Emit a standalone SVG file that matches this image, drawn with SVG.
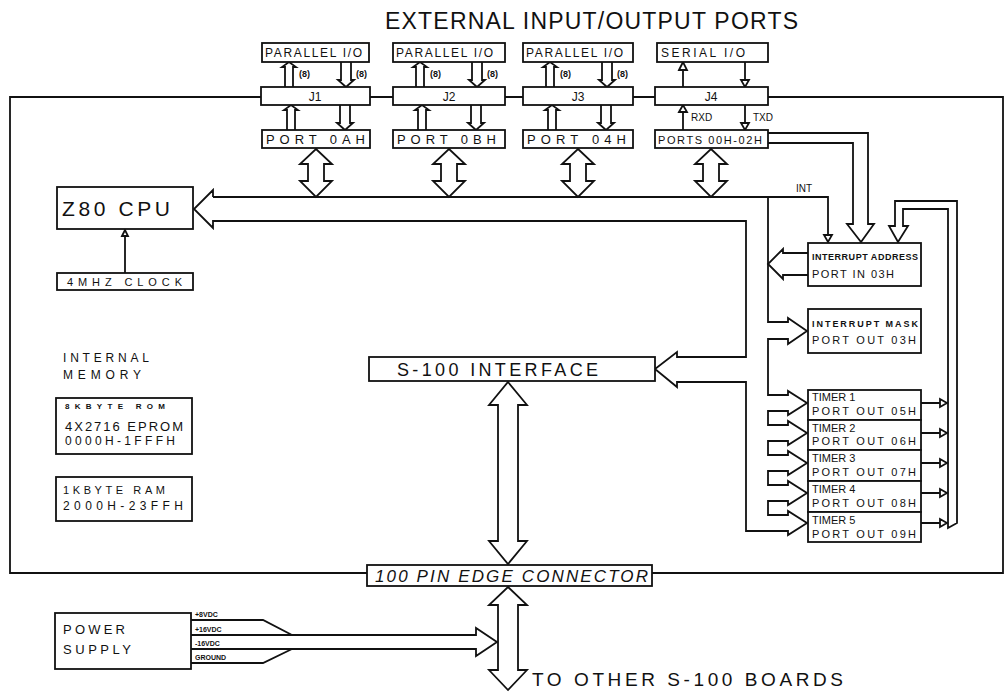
<svg xmlns="http://www.w3.org/2000/svg" width="1007" height="693" viewBox="0 0 1007 693">
<style>
.ln{fill:none;stroke:#111;stroke-width:1.8;stroke-linejoin:miter}
.bx{fill:#fff;stroke:#111;stroke-width:1.8}
.ar{fill:#fff;stroke:#111;stroke-width:1.8;stroke-linejoin:miter}
.t{font-family:"Liberation Sans",Arial,sans-serif;fill:#111}
</style>
<rect width="1007" height="693" fill="#fff"/>
<g id="connectors">
  <path class="ln" d="M261,97 H10 V573 H367"/>
  <path class="ln" d="M652,573 H1003 V97 H768"/>
  <path class="ln" d="M370,97 H393 M505,97 H523 M633,97 H655"/>
  <path class="ar" d="M285,87 V67 H282 L289,62 L296,67 H293 V87"/>
  <path class="ar" d="M341,62 V80 H338 L346,87 L354,80 H351 V62"/>
  <path class="ar" d="M287,130 V110 H284 L291,105 L298,110 H295 V130"/>
  <path class="ar" d="M340,105 V123 H337 L345,130 L353,123 H350 V105"/>
  <path class="ar" d="M416,87 V67 H413 L420,62 L427,67 H424 V87"/>
  <path class="ar" d="M472,62 V80 H469 L477,87 L485,80 H482 V62"/>
  <path class="ar" d="M418,130 V110 H415 L422,105 L429,110 H426 V130"/>
  <path class="ar" d="M471,105 V123 H468 L476,130 L484,123 H481 V105"/>
  <path class="ar" d="M546,87 V67 H543 L550,62 L557,67 H554 V87"/>
  <path class="ar" d="M602,62 V80 H599 L607,87 L615,80 H612 V62"/>
  <path class="ar" d="M548,130 V110 H545 L552,105 L559,110 H556 V130"/>
  <path class="ar" d="M601,105 V123 H598 L606,130 L614,123 H611 V105"/>
  <path class="ln" d="M683,87 V66 M745,61 V82 M683,130 V109 M745,104 V126"/>
  <path class="ar" d="M679,70 L683,62 L687,70 Z"/>
  <path class="ar" d="M741,80 L749,80 L745,87 Z"/>
  <path class="ar" d="M679,112 L683,105 L687,112 Z"/>
  <path class="ar" d="M741,123 L749,123 L745,130 Z"/>
  <path class="ar" d="M316,149 L332,164 H324 V181 H332 L316,197 L300,181 H308 V164 H300 Z"/>
  <path class="ar" d="M449,149 L465,164 H457 V181 H465 L449,197 L433,181 H441 V164 H433 Z"/>
  <path class="ar" d="M578,149 L594,164 H586 V181 H594 L578,197 L562,181 H570 V164 H562 Z"/>
  <path class="ar" d="M711,149 L727,164 H719 V181 H727 L711,197 L695,181 H703 V164 H695 Z"/>
  <path class="ln" d="M213,197 H828 V236"/>
  <path class="ar" d="M824,235 L832,235 L828,242 Z"/>
  <path class="ln" d="M213,197 V190 L194,209 L213,228 V221 H746 V357 H677 V352 L655,369 L677,387 V382 H746 V531 H788 V535 L807,523 L788,511 V515 H768 V501 H788 V505 L807,493 L788,481 V485 H768 V471 H788 V475 L807,463 L788,451 V455 H768 V441 H788 V445 L807,433 L788,421 V425 H768 V411 H788 V415 L807,403 L788,391 V395 H768 V339 H788 V344 L807,331 L788,318 V322 H768 V197"/>
  <path class="ln" d="M808,253 H783 V249 L768,264 L783,279 V275 H808"/>
  <path class="ln" d="M768,133 H868 V224 H874 L861,242 L847,224 H853 V143 H768"/>
  <path class="ln" d="M948,528 L957,523 V201 H895 V226 H889 L898,242 L908,226 H903 V209 H948 Z"/>
  <path class="ln" d="M921,403 H941 M921,433 H941 M921,463 H941 M921,493 H941 M921,523 H941"/>
  <path class="ar" d="M940,399 L947,403 L940,407 Z M940,429 L947,433 L940,437 Z M940,459 L947,463 L940,467 Z M940,489 L947,493 L940,497 Z M940,519 L947,523 L940,527 Z"/>
  <path class="ln" d="M125,273 V235"/>
  <path class="ar" d="M122,236 L125,230 L128,236 Z"/>
  <path class="ar" d="M508,382 L527,405 H518 V541 H527 L508,564 L489,541 H498 V405 H489 Z"/>
  <path class="ar" d="M508,587 L527,605 H518 V670 H527 L508,690 L489,670 H498 V605 H489 Z"/>
  <path class="ln" d="M191,620 H263 L292,635"/>
  <path class="ar" d="M191,635 H476 V628 L497,642 L476,656 V649 H191"/>
  <path class="ln" d="M191,663 H263 L292,649"/>
</g>
<text class="t" x="385" y="29" font-size="23" textLength="413">EXTERNAL INPUT/OUTPUT PORTS</text>
<g id="parallel1"><rect class="bx" x="262" y="43" width="107" height="19"/><text class="t" x="265" y="57" font-size="12" textLength="97">PARALLEL I/O</text></g>
<g id="parallel2"><rect class="bx" x="393" y="43" width="112" height="19"/><text class="t" x="396" y="57" font-size="12" textLength="97">PARALLEL I/O</text></g>
<g id="parallel3"><rect class="bx" x="523" y="43" width="110" height="19"/><text class="t" x="526" y="57" font-size="12" textLength="97">PARALLEL I/O</text></g>
<g id="serial"><rect class="bx" x="657" y="43" width="111" height="19"/><text class="t" x="661" y="57" font-size="12" textLength="84">SERIAL I/O</text></g>
<g id="labels8" class="t" font-size="9" font-weight="bold">
  <text x="299" y="77">(8)</text><text x="356" y="77">(8)</text>
  <text x="430" y="77">(8)</text><text x="487" y="77">(8)</text>
  <text x="560" y="77">(8)</text><text x="617" y="77">(8)</text>
  <text x="691" y="121" font-weight="normal" font-size="10">RXD</text><text x="753" y="121" font-weight="normal" font-size="10">TXD</text>
</g>
<g id="J1"><rect class="bx" x="261" y="87" width="109" height="18"/><text class="t" x="315" y="101" font-size="12" text-anchor="middle">J1</text></g>
<g id="J2"><rect class="bx" x="393" y="87" width="112" height="18"/><text class="t" x="449" y="101" font-size="12" text-anchor="middle">J2</text></g>
<g id="J3"><rect class="bx" x="523" y="87" width="110" height="18"/><text class="t" x="578" y="101" font-size="12" text-anchor="middle">J3</text></g>
<g id="J4"><rect class="bx" x="655" y="87" width="113" height="18"/><text class="t" x="711" y="101" font-size="12" text-anchor="middle">J4</text></g>
<g id="port0A"><rect class="bx" x="262" y="130" width="108" height="18"/><text class="t" x="266" y="144" font-size="13" textLength="99">PORT 0AH</text></g>
<g id="port0B"><rect class="bx" x="393" y="130" width="112" height="18"/><text class="t" x="397" y="144" font-size="13" textLength="99">PORT 0BH</text></g>
<g id="port04"><rect class="bx" x="523" y="130" width="110" height="18"/><text class="t" x="527" y="144" font-size="13" textLength="99">PORT 04H</text></g>
<g id="port00"><rect class="bx" x="655" y="130" width="113" height="18"/><text class="t" x="658" y="144" font-size="11" textLength="104">PORTS 00H-02H</text></g>
<g id="cpu"><rect class="bx" x="57" y="187" width="136" height="42"/><text class="t" x="62" y="216" font-size="21" textLength="108">Z80 CPU</text></g>
<g id="clock"><rect class="bx" x="57" y="273" width="136" height="17"/><text class="t" x="67" y="286" font-size="11" textLength="115">4MHZ CLOCK</text></g>
<text class="t" x="796" y="192" font-size="10">INT</text>
<g id="intaddr"><rect class="bx" x="808" y="243" width="113" height="43"/><text class="t" x="812" y="260" font-size="9" font-weight="bold" textLength="106">INTERRUPT ADDRESS</text><text class="t" x="812" y="278" font-size="11" textLength="82">PORT IN 03H</text></g>
<g id="intmask"><rect class="bx" x="808" y="309" width="113" height="44"/><text class="t" x="812" y="327" font-size="9" font-weight="bold" textLength="106">INTERRUPT MASK</text><text class="t" x="812" y="344" font-size="11" textLength="104">PORT OUT 03H</text></g>
<g id="memlabel"><text class="t" x="63" y="362" font-size="12" textLength="86">INTERNAL</text><text class="t" x="63" y="379" font-size="12" textLength="78">MEMORY</text></g>
<g id="rom"><rect class="bx" x="56" y="398" width="136" height="56"/><text class="t" x="65" y="409" font-size="8" font-weight="bold" textLength="100">8KBYTE ROM</text><text class="t" x="65" y="431" font-size="13" textLength="118">4X2716 EPROM</text><text class="t" x="65" y="445" font-size="12" textLength="110">0000H-1FFFH</text></g>
<g id="ram"><rect class="bx" x="56" y="477" width="136" height="44"/><text class="t" x="63" y="494" font-size="11" textLength="102">1KBYTE RAM</text><text class="t" x="63" y="510" font-size="12" textLength="120">2000H-23FFH</text></g>
<g id="interface"><rect class="bx" x="369" y="357" width="286" height="24"/><text class="t" x="397" y="376" font-size="18" textLength="201">S-100 INTERFACE</text></g>
<g id="timer1"><rect class="bx" x="808" y="390" width="113" height="30"/><text class="t" x="812" y="401" font-size="11">TIMER 1</text><text class="t" x="812" y="415" font-size="11" textLength="104">PORT OUT 05H</text></g>
<g id="timer2"><rect class="bx" x="808" y="420" width="113" height="30"/><text class="t" x="812" y="432" font-size="11">TIMER 2</text><text class="t" x="812" y="445" font-size="11" textLength="104">PORT OUT 06H</text></g>
<g id="timer3"><rect class="bx" x="808" y="450" width="113" height="31"/><text class="t" x="812" y="462" font-size="11">TIMER 3</text><text class="t" x="812" y="476" font-size="11" textLength="104">PORT OUT 07H</text></g>
<g id="timer4"><rect class="bx" x="808" y="481" width="113" height="31"/><text class="t" x="812" y="493" font-size="11">TIMER 4</text><text class="t" x="812" y="507" font-size="11" textLength="104">PORT OUT 08H</text></g>
<g id="timer5"><rect class="bx" x="808" y="512" width="113" height="30"/><text class="t" x="812" y="524" font-size="11">TIMER 5</text><text class="t" x="812" y="538" font-size="11" textLength="104">PORT OUT 09H</text></g>
<g id="edge"><rect class="bx" x="367" y="565" width="285" height="21"/><text class="t" x="375" y="582" font-size="17" font-style="italic" textLength="273">100 PIN EDGE CONNECTOR</text></g>
<g id="power"><rect class="bx" x="55" y="613" width="136" height="56"/><text class="t" x="63" y="634" font-size="13" textLength="62">POWER</text><text class="t" x="63" y="654" font-size="13" textLength="68">SUPPLY</text></g>
<g id="powerlabels" class="t" font-size="7" font-weight="bold">
  <text x="195" y="617">+8VDC</text><text x="195" y="632">+16VDC</text><text x="195" y="646">-16VDC</text><text x="195" y="660">GROUND</text>
</g>
<text class="t" x="532" y="686" font-size="19" textLength="311">TO OTHER S-100 BOARDS</text>
</svg>
